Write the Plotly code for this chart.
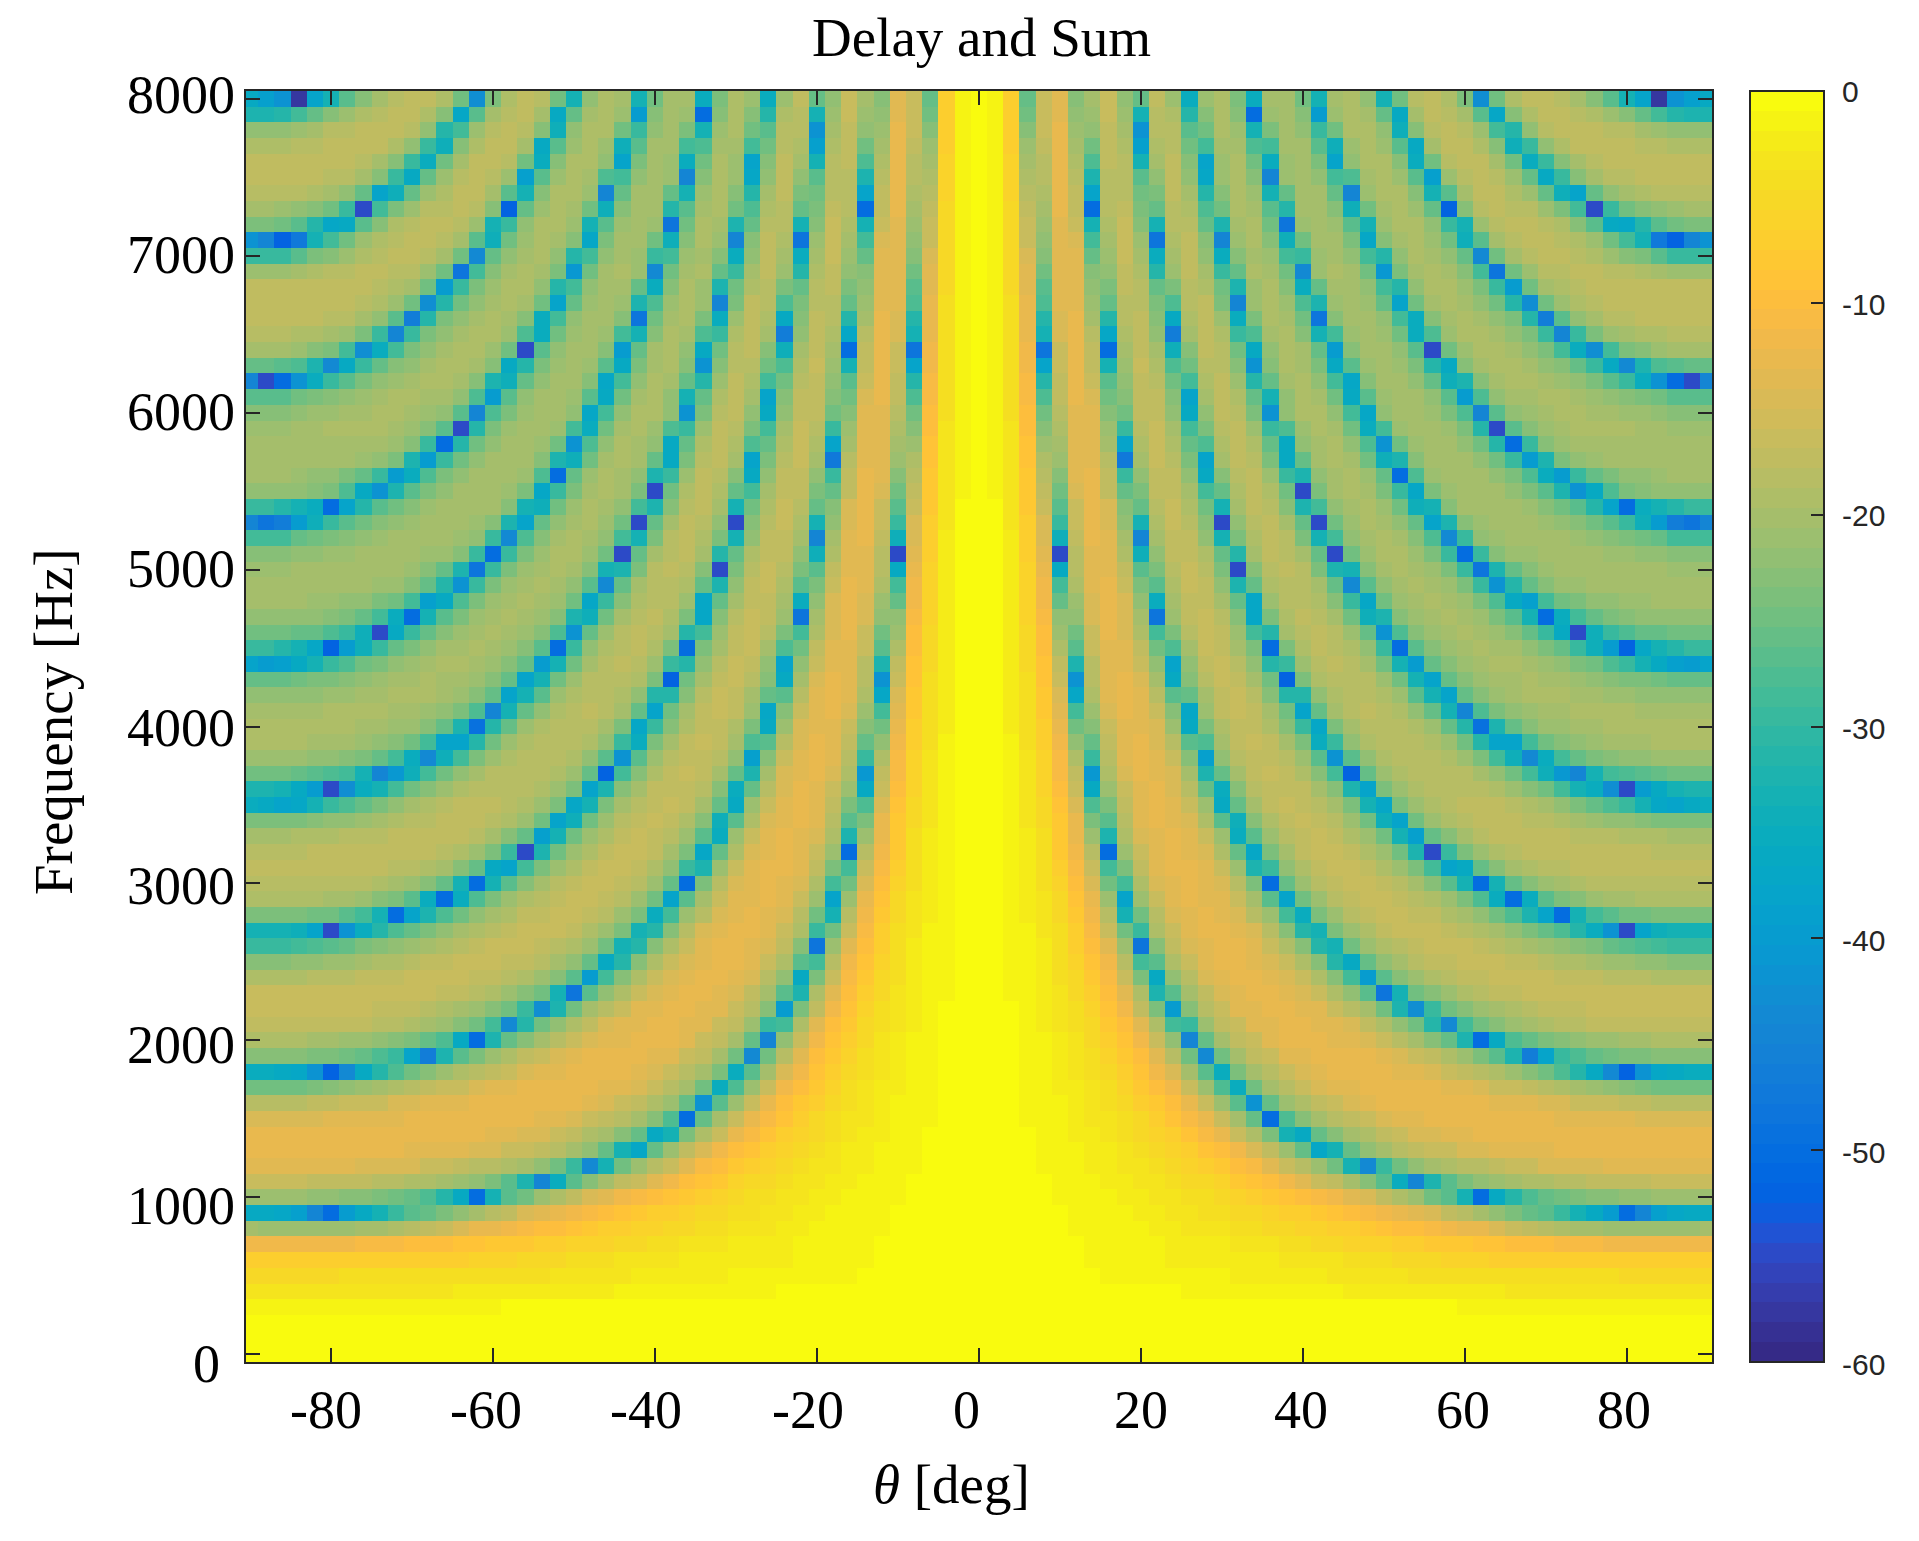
import plotly.graph_objects as go

W, H = 1919, 1541
L_PX, R_PX, T_PX, B_PX = 246, 1712, 91, 1362

theta_half_deg = [0,2,4,6,8,10,12,14,16,18,20,22,24,26,28,30,32,34,36,38,40,42,44,46,48,50,52,54,56,58,60,62,64,66,68,70,72,74,76,78,80,82,84,86,88,90]
frequency_hz = [100*i for i in range(81)]

# attenuation in dB (positive = below 0 dB), estimated by eye; columns are theta_half_deg
rows_0000_0900 = [
[0]*46,
[0]*46,
[0]*46,
[0]*30+[1]*16,
[0]*13+[1]*10+[2]*10+[3]*13,
[0]*8+[1]*8+[2]*6+[3]*5+[4]*5+[4]*8+[5]*6,
[0]*7+[1]*5+[2]*4+[2]*3+[3]*4+[4]*3+[5]*3+[6]*3+[7]*5+[7]*9,
[0,0,0,0,0,0,0,1,1,1,1,1,2,2,2,2,3,3,3,4,4,5,5,6,6,6,7,7,8,8,8,9,9,10,10,10,11,11,11,12,12,12,12,12,12,12],
[0,0,0,0,0,0,1,1,1,1,1,2,2,3,3,3,4,4,5,5,6,6,7,7,8,9,10,10,11,12,13,13,15,16,17,18,19,20,20,21,21,21,21,21,21,20],
[0,0,0,0,0,0,1,1,1,1,2,2,3,3,4,4,5,5,6,7,7,8,9,10,11,12,13,14,15,17,18,20,22,24,26,27,30,33,36,40,50,45,39,37,36,36],
]
rows_1000_1900 = [
[0,0,0,0,0,1,1,1,1,2,2,3,3,4,4,5,6,7,8,9,10,11,12,14,15,17,19,21,25,27,33,50,36,31,28,26,25,24,23,23,22,22,21,21,21,21],
[0,0,0,0,0,1,1,1,2,2,3,3,4,5,5,6,8,9,10,12,14,16,17,20,23,27,35,45,32,27,24,22,21,20,19,19,18,18,17,17,17,17,16,16,16,16],
[0,0,0,0,1,1,1,2,2,3,3,4,5,6,7,8,10,11,14,16,18,21,25,33,44,30,25,22,20,19,18,18,17,16,16,15,15,15,15,14,14,14,14,14,14,14],
[0,0,0,0,1,1,1,2,2,3,4,5,6,7,9,10,12,15,17,21,26,37,33,26,22,20,18,17,16,16,15,15,14,14,14,14,13,13,13,13,13,13,13,13,13,13],
[0,0,0,0,1,1,2,2,3,4,5,6,7,9,11,13,16,19,24,33,36,26,23,20,19,17,16,15,15,14,14,13,13,13,13,13,13,13,13,13,13,13,13,13,13,13],
[0,0,0,1,1,1,2,3,3,4,5,7,9,11,13,16,20,26,50,28,23,20,18,17,16,15,14,14,13,13,13,13,13,13,13,13,14,14,14,14,14,15,15,15,15,15],
[0,0,0,1,1,1,2,3,4,5,7,8,10,13,16,21,27,42,26,21,19,17,16,15,14,13,13,13,13,13,13,13,14,14,14,15,15,16,16,16,17,17,18,18,18,18],
[0,0,0,1,1,2,2,3,4,6,8,10,12,16,21,28,35,25,20,18,16,15,14,14,13,13,13,13,13,14,14,15,16,16,17,18,19,20,21,22,23,24,25,25,25,25],
[0,0,0,1,1,2,3,4,5,7,9,12,15,20,27,35,24,20,18,16,15,14,13,13,13,13,14,14,15,16,17,18,19,21,23,25,28,31,36,44,52,42,37,36,35,35],
[0,0,0,1,1,2,3,4,6,8,10,14,18,25,44,25,20,17,16,14,14,13,13,13,13,14,15,16,17,19,21,24,27,32,46,38,30,28,26,25,24,24,23,23,23,23],
]
rows_2000_2900 = [
[0,0,0,1,1,2,3,5,7,9,12,16,22,45,26,20,17,16,14,13,13,13,14,14,15,16,18,20,23,26,32,50,36,28,26,24,23,22,21,21,20,20,19,19,19,19],
[0,0,0,1,2,3,4,5,8,10,14,19,29,30,21,17,16,14,14,13,13,14,14,15,17,19,22,25,31,44,29,25,23,21,20,19,18,18,17,17,17,17,17,17,17,17],
[0,0,0,1,2,3,4,6,9,12,17,24,40,23,18,16,14,14,13,13,14,14,16,18,20,25,32,43,30,25,23,21,20,19,18,17,17,17,16,16,16,16,16,16,16,16],
[0,0,1,1,2,3,5,7,10,14,19,32,27,20,17,15,14,13,13,14,15,16,19,22,27,48,33,25,23,21,19,18,17,17,16,16,16,16,16,16,16,16,16,16,16,16],
[0,0,1,1,2,4,5,8,11,16,24,36,22,18,15,14,13,13,14,15,16,19,23,29,40,27,23,21,19,18,17,17,16,16,16,16,17,17,17,18,18,18,19,19,19,19],
[0,0,1,1,2,4,6,9,12,18,29,27,19,16,14,13,13,14,15,16,19,23,31,36,26,22,20,18,17,17,16,16,16,17,17,18,19,19,20,21,21,22,22,23,23,23],
[0,0,1,1,2,4,7,10,14,21,48,23,17,15,14,13,13,14,16,19,23,31,33,25,21,19,18,17,16,16,16,17,18,19,20,21,22,23,24,26,27,28,29,30,30,30],
[0,0,1,1,3,4,7,11,16,25,30,19,16,14,13,13,14,15,18,23,31,33,24,21,19,17,16,16,16,17,18,19,20,22,24,26,28,31,35,42,55,38,34,33,33,33],
[0,0,1,2,3,5,8,12,18,33,25,18,15,14,13,14,15,18,21,29,35,24,21,18,17,16,16,17,17,19,20,22,25,28,32,38,50,33,29,27,25,25,24,24,24,24],
[0,0,1,2,3,5,9,13,21,38,21,16,14,13,14,14,16,20,27,38,25,21,18,17,16,16,17,18,19,21,24,28,35,50,35,27,24,23,21,20,20,19,19,19,19,19],
]
rows_3000_3900 = [
[0,0,1,2,4,6,10,15,25,29,19,15,14,13,14,15,18,24,50,26,21,18,17,16,16,17,18,20,23,27,33,50,33,26,23,21,20,19,18,18,18,18,18,18,18,18],
[0,0,1,2,4,7,11,16,29,24,17,14,13,13,14,16,21,32,30,22,19,17,16,16,17,19,21,24,29,38,36,26,23,20,19,18,18,17,17,17,17,17,17,17,17,17],
[0,0,1,2,4,8,12,18,50,21,16,14,13,14,15,19,26,37,24,20,17,16,16,17,19,21,25,32,55,30,24,21,19,18,17,17,17,17,17,17,17,17,18,18,18,18],
[0,0,1,2,4,8,13,21,32,19,15,14,13,14,16,21,35,27,21,18,17,16,17,19,21,25,33,39,26,23,20,18,17,17,17,17,17,18,18,18,19,19,19,20,20,20],
[0,0,1,3,5,8,13,24,27,18,14,13,14,15,19,27,34,23,19,17,16,17,18,21,25,34,38,25,21,19,18,17,17,17,18,18,19,20,21,22,22,23,24,24,24,24],
[0,0,1,3,5,9,15,28,24,17,14,13,14,16,21,36,26,20,17,16,17,18,20,24,33,37,24,21,19,18,17,17,17,18,19,20,22,24,26,28,30,33,37,38,36,35],
[0,0,1,3,6,10,16,36,21,16,14,13,15,18,26,35,23,18,17,17,17,20,23,32,38,24,21,19,18,18,18,18,19,21,23,25,29,33,35,43,55,40,36,33,32,32],
[0,0,1,3,6,11,17,41,19,15,13,14,15,20,32,26,20,17,16,17,19,23,29,52,26,21,19,18,18,18,18,20,22,25,29,34,41,45,33,29,28,27,26,25,25,25],
[0,0,1,3,6,11,19,30,18,14,13,14,16,23,39,22,18,17,17,18,21,27,42,27,22,19,18,18,18,19,21,24,29,34,44,35,29,26,24,23,22,22,21,21,21,21],
[0,0,1,4,7,12,22,26,17,14,13,15,18,27,28,20,17,16,17,20,24,35,30,22,19,18,18,18,19,21,25,31,38,38,29,25,23,22,21,20,20,20,19,19,19,19],
]
rows_4000_4900 = [
[0,0,2,4,7,13,25,23,16,14,14,15,21,36,24,19,17,17,19,23,30,37,24,20,18,18,18,19,21,26,31,49,32,26,23,21,21,20,20,19,19,19,19,19,19,19],
[0,0,2,4,8,14,29,21,15,13,14,16,23,37,21,17,16,17,20,25,38,26,20,18,17,18,19,22,26,33,45,28,24,22,21,20,20,19,19,19,19,20,20,20,20,20],
[0,0,2,4,8,15,37,19,14,13,14,18,27,26,20,17,16,18,23,31,31,22,19,18,18,19,21,27,33,38,26,23,21,20,19,19,19,20,20,21,21,22,22,22,22,22],
[0,0,2,4,9,16,42,18,14,13,15,20,36,23,18,16,17,20,25,52,24,19,18,18,18,21,25,33,38,26,23,21,20,20,19,20,20,21,22,23,24,24,25,26,26,26],
[0,0,2,5,9,17,32,18,14,14,16,22,38,22,17,16,18,22,31,30,21,18,17,18,20,25,33,40,26,23,21,20,19,19,20,21,22,24,25,28,30,33,36,39,40,38],
[0,0,2,5,10,19,27,16,14,14,17,25,28,20,16,17,20,24,50,24,19,17,18,19,22,30,50,27,23,21,20,19,20,20,22,24,26,30,34,40,52,37,33,31,30,30],
[0,0,2,5,10,21,25,16,13,15,19,29,24,18,16,17,21,29,31,20,18,17,18,21,26,42,28,23,21,20,19,20,21,23,26,30,36,55,34,30,28,26,26,25,25,25],
[0,0,2,6,11,22,22,15,13,15,20,48,21,17,16,18,23,37,24,19,17,18,20,25,34,32,23,21,20,19,20,21,24,27,33,50,35,29,26,24,23,22,22,22,22,22],
[0,0,2,6,12,26,21,15,13,15,22,35,20,17,17,20,26,37,21,18,18,19,23,30,37,25,21,20,19,20,21,24,28,36,39,29,25,24,22,22,21,21,20,20,20,20],
[0,0,2,6,12,29,19,14,13,16,24,27,19,16,17,22,32,26,19,18,18,20,26,44,27,22,20,19,20,21,24,30,42,31,26,23,21,21,20,20,20,20,20,20,20,20],
]
rows_5000_5900 = [
[0,0,2,6,13,36,18,14,14,17,27,24,18,16,18,24,55,23,18,17,18,24,32,33,23,20,19,20,21,24,30,48,32,26,23,21,20,20,20,20,20,20,20,21,21,21],
[0,0,2,7,14,55,18,14,14,19,34,22,17,17,19,26,31,20,17,18,20,26,55,25,21,19,19,21,24,30,50,30,23,21,21,20,20,20,20,21,21,22,22,23,23,23],
[0,0,2,7,15,34,17,13,14,20,45,20,17,17,22,33,24,19,17,18,24,33,29,22,20,19,20,23,28,44,30,22,21,20,20,20,20,21,22,23,24,25,26,29,29,29],
[0,0,3,7,15,30,16,13,15,22,33,19,16,18,23,55,22,18,17,20,26,55,25,21,19,20,22,26,38,32,23,21,20,20,20,21,22,23,25,27,30,34,40,46,48,45],
[0,0,3,8,16,27,16,13,15,23,26,18,16,19,25,33,20,17,18,23,32,29,22,20,19,21,25,34,33,23,20,20,20,20,21,23,25,27,31,38,50,35,33,31,30,30],
[0,1,3,8,17,25,15,13,17,26,24,17,17,20,29,26,19,17,19,25,55,24,20,19,20,24,30,37,24,21,20,20,20,22,24,27,32,42,36,28,24,23,22,22,22,22],
[0,1,3,8,18,23,14,13,17,30,22,17,17,22,36,23,18,17,21,30,32,22,20,19,21,26,50,28,21,20,20,20,22,24,28,35,40,30,26,24,22,22,21,20,20,20],
[0,1,3,9,19,21,14,14,18,47,20,16,18,24,38,20,17,18,24,36,26,20,19,20,25,34,32,23,20,20,20,22,25,30,40,32,24,22,21,20,20,20,20,20,20,20],
[0,1,3,9,21,20,14,14,20,38,19,16,19,26,28,19,17,19,26,36,22,20,19,22,28,42,25,21,20,20,22,25,31,50,30,23,21,20,20,20,20,20,20,20,20,20],
[0,1,3,10,23,19,14,14,21,30,18,16,20,29,24,18,17,21,30,28,21,19,20,25,35,29,21,20,20,21,24,31,55,27,23,21,20,19,19,19,19,20,20,21,21,21],
]
rows_6000_6900 = [
[0,1,4,10,25,18,14,14,23,25,17,17,22,36,22,17,18,24,42,22,19,19,22,29,37,22,20,20,21,24,28,45,27,22,21,20,19,19,20,20,21,21,22,23,23,23],
[0,1,4,11,28,17,13,15,25,23,17,17,23,38,20,17,19,26,33,22,19,20,25,36,27,21,20,20,22,27,40,28,22,20,20,19,19,20,21,22,23,24,25,27,27,27],
[0,1,4,11,31,17,13,16,27,22,17,18,25,29,19,17,21,31,26,20,19,22,29,37,23,20,20,22,26,34,32,23,20,19,19,20,21,22,24,27,30,35,42,50,55,45],
[0,1,4,12,38,16,13,17,33,21,16,19,28,25,18,18,23,42,23,19,20,24,36,27,21,20,21,24,31,36,23,20,19,19,20,22,23,26,30,36,44,32,28,27,26,26],
[0,1,4,12,48,16,13,17,50,20,17,20,34,23,17,18,25,36,22,19,20,26,40,23,20,20,22,27,55,25,21,19,19,20,22,24,29,35,43,29,24,23,21,20,20,20],
[0,1,4,13,33,15,13,18,37,19,17,22,46,20,17,19,30,28,20,19,23,33,29,21,20,21,25,35,28,21,19,19,20,22,24,30,45,30,24,21,20,19,19,18,18,18],
[0,1,4,13,31,15,13,20,31,18,17,23,36,19,17,21,35,24,19,20,25,48,23,20,20,22,29,35,23,20,19,20,22,24,31,46,27,22,20,18,18,17,17,17,17,17],
[0,1,4,13,28,14,14,21,26,18,18,24,28,18,17,24,45,21,19,21,28,32,21,20,21,26,38,25,20,19,20,22,25,31,43,25,21,19,18,17,17,17,17,17,17,17],
[0,1,5,14,27,14,14,22,24,17,18,26,24,18,19,25,32,21,19,23,35,26,20,20,22,29,31,22,19,19,21,24,30,40,25,20,19,18,17,17,17,17,17,17,17,17],
[0,1,5,14,25,14,14,23,22,17,19,31,21,17,20,30,26,19,20,25,44,21,19,20,25,41,24,20,19,20,23,29,48,25,21,18,18,17,17,18,18,19,20,21,21,21],
]
rows_7000_8000 = [
[0,1,5,15,23,14,14,26,21,16,20,35,20,17,22,35,23,20,21,29,30,21,20,22,29,31,22,19,20,22,26,44,25,20,18,17,17,18,19,21,23,24,27,30,30,30],
[0,1,5,16,22,14,15,29,20,16,21,48,19,17,23,45,21,19,23,34,25,20,20,24,37,23,20,19,21,25,34,27,20,18,17,17,18,19,21,25,29,33,47,52,45,42],
[0,1,5,16,21,14,16,33,19,16,23,33,18,18,26,32,20,19,25,48,21,20,21,27,33,21,19,19,22,30,33,21,18,17,17,18,19,23,27,36,37,31,27,25,24,24],
[0,1,5,17,20,13,17,50,18,17,24,26,18,19,28,25,19,20,27,31,20,20,23,34,25,20,19,21,26,52,23,18,17,18,18,21,24,29,55,30,25,23,22,21,20,20],
[0,1,6,18,19,13,17,38,18,18,25,24,17,20,31,23,19,21,33,26,20,20,26,45,21,19,19,23,33,27,20,17,17,19,21,26,34,38,26,22,20,19,18,18,18,18],
[0,1,6,19,18,13,18,32,18,18,27,22,17,22,37,21,19,23,45,21,20,22,29,28,20,19,21,27,39,21,18,17,18,21,26,36,30,23,20,18,18,17,17,17,17,17],
[0,1,6,20,18,13,19,28,17,18,33,20,17,23,38,21,19,25,35,21,20,24,38,22,19,19,23,35,25,18,17,17,20,25,35,30,23,20,18,17,17,17,17,17,17,17],
[0,1,7,21,17,13,20,25,17,19,39,19,18,25,29,20,20,28,29,20,20,27,34,21,19,21,27,36,20,17,17,19,23,34,30,22,19,17,17,17,17,18,18,19,19,19],
[0,1,7,23,16,13,21,22,17,20,42,18,18,27,25,19,21,33,24,20,22,30,25,19,19,22,34,23,18,17,18,21,29,31,22,18,17,17,17,18,18,20,21,22,22,22],
[0,1,7,25,16,14,22,21,16,21,33,18,19,31,23,19,23,50,21,20,23,40,21,19,20,26,36,20,17,18,20,27,37,23,19,17,17,18,19,21,23,26,29,31,32,32],
[0,1,7,26,16,14,23,20,16,22,26,17,21,35,21,19,24,35,20,20,25,33,20,19,22,33,25,18,17,19,24,43,25,19,17,17,18,20,23,27,33,38,58,42,39,36],
]

attenuation_db = (rows_0000_0900 + rows_1000_1900 + rows_2000_2900
                  + rows_3000_3900 + rows_4000_4900 + rows_5000_5900
                  + rows_6000_6900 + rows_7000_8000)

n_half = len(theta_half_deg)
attenuation_db = [(r + [r[-1]] * n_half)[:n_half] for r in attenuation_db]

theta_deg = [-t for t in reversed(theta_half_deg[1:])] + theta_half_deg
z_db = [[-v for v in reversed(r[1:])] + [-v for v in r] for r in attenuation_db]

parula = [(.2081,.1663,.5292),(.2116,.1898,.5777),(.2123,.2138,.6270),(.2081,.2386,.6771),(.1959,.2645,.7279),(.1707,.2919,.7792),(.1253,.3242,.8303),(.0591,.3598,.8683),(.0117,.3875,.8820),(.0060,.4086,.8828),(.0165,.4266,.8786),(.0329,.4430,.8720),(.0498,.4586,.8641),(.0629,.4737,.8554),(.0723,.4887,.8467),(.0779,.5040,.8384),(.0793,.5200,.8312),(.0749,.5375,.8263),(.0641,.5570,.8240),(.0488,.5772,.8228),(.0343,.5966,.8199),(.0265,.6137,.8135),(.0239,.6287,.8038),(.0231,.6418,.7913),(.0228,.6535,.7768),(.0267,.6642,.7607),(.0384,.6743,.7436),(.0590,.6838,.7254),(.0843,.6928,.7062),(.1133,.7015,.6859),(.1453,.7098,.6646),(.1801,.7177,.6424),(.2178,.7250,.6193),(.2586,.7317,.5954),(.3022,.7376,.5712),(.3482,.7424,.5473),(.3953,.7459,.5244),(.4420,.7481,.5033),(.4871,.7491,.4840),(.5300,.7491,.4661),(.5709,.7485,.4494),(.6099,.7473,.4337),(.6473,.7456,.4188),(.6834,.7435,.4044),(.7184,.7411,.3905),(.7525,.7384,.3768),(.7858,.7356,.3633),(.8185,.7327,.3498),(.8507,.7299,.3360),(.8824,.7274,.3217),(.9139,.7258,.3063),(.9450,.7261,.2886),(.9739,.7314,.2666),(.9938,.7455,.2403),(.9990,.7653,.2164),(.9955,.7861,.1967),(.9880,.8066,.1794),(.9789,.8271,.1633),(.9697,.8481,.1475),(.9626,.8705,.1309),(.9589,.8949,.1132),(.9598,.9218,.0948),(.9661,.9514,.0755),(.9763,.9831,.0538)]
colorscale = []
for i, (r, g, b) in enumerate(parula):
    c = f"rgb({round(r*255)},{round(g*255)},{round(b*255)})"
    colorscale += [[i/64, c], [(i+1)/64, c]]

INK = "#262626"
SERIF = "Liberation Serif"
SIZE = 54

colorbar_ticks = [0,-10,-20,-30,-40,-50,-60]

fig = go.Figure(go.Heatmap(
    x=theta_deg, y=frequency_hz, z=z_db, zmin=-60, zmax=0, colorscale=colorscale,
    hoverinfo="skip",
    colorbar=dict(
        x=1750/W, xanchor="left", xref="paper", y=1-B_PX/H, yanchor="bottom", yref="paper",
        len=(B_PX-T_PX)/H, lenmode="fraction", thickness=74, thicknessmode="pixels",
        xpad=0, ypad=0, outlinecolor=INK, outlinewidth=2,
        ticks="inside", ticklen=14, tickcolor=INK, tickwidth=2,
        tickvals=colorbar_ticks, showticklabels=False,
    ),
))

axis_common = dict(showgrid=False, zeroline=False, showline=True, linecolor=INK, linewidth=2,
                   mirror="ticks", ticks="inside", ticklen=14, tickcolor=INK, tickwidth=2,
                   showticklabels=False)
x_tick_values = [-80,-60,-40,-20,0,20,40,60,80]
y_tick_values = [0,1000,2000,3000,4000,5000,6000,7000,8000]
fig.update_layout(
    width=W, height=H, margin=dict(l=0, r=0, t=0, b=0, autoexpand=False),
    paper_bgcolor="white", plot_bgcolor="white",
    xaxis=dict(axis_common, domain=[L_PX/W, R_PX/W], range=[-90.5, 90.5], tickvals=x_tick_values),
    yaxis=dict(axis_common, domain=[1-B_PX/H, 1-T_PX/H], range=[-50, 8050], tickvals=y_tick_values),
)

x_label_shift = [-5,-7,-9,-9,-13,0,-2,-2,-3]
y_label_shift = [-10,-9,-5,-3,-1,1,1,1,4]
y_label_right = [222,237,237,237,237,237,237,237,237]
for v, s in zip(x_tick_values, x_label_shift):
    fig.add_annotation(x=v, xref="x", xshift=s, y=1-1410/H, yref="paper", text=str(v), showarrow=False,
                       xanchor="center", yanchor="middle", font=dict(family=SERIF, size=SIZE, color="black"))
for v, s, rx in zip(y_tick_values, y_label_shift, y_label_right):
    fig.add_annotation(x=rx/W, xref="paper", y=v, yref="y", yshift=s, text=str(v), showarrow=False,
                       xanchor="right", yanchor="middle", font=dict(family=SERIF, size=SIZE, color="black"))
colorbar_label_y = [92,304,515,728,940,1152,1364]
for v, py in zip(colorbar_ticks, colorbar_label_y):
    fig.add_annotation(x=1840/W, xref="paper", y=1-py/H, yref="paper", text=str(v), showarrow=False,
                       xanchor="left", yanchor="middle", font=dict(family="Liberation Sans", size=30, color=INK))
fig.add_annotation(x=981/W, xref="paper", y=1-37/H, yref="paper", text="Delay and Sum", showarrow=False,
                   xanchor="center", yanchor="middle", font=dict(family=SERIF, size=55, color="black"))
fig.add_annotation(x=951/W, xref="paper", y=1-1484/H, yref="paper", text="<i>θ</i> [deg]", showarrow=False,
                   xanchor="center", yanchor="middle", font=dict(family=SERIF, size=55, color="black"))
fig.add_annotation(x=53/W, xref="paper", y=1-722/H, yref="paper", text="Frequency [Hz]", showarrow=False, textangle=-90,
                   xanchor="center", yanchor="middle", font=dict(family=SERIF, size=55, color="black"))

fig.write_html("out.html", config={"displayModeBar": False},
               post_script="document.body.style.margin='0';document.body.style.overflow='hidden';")
